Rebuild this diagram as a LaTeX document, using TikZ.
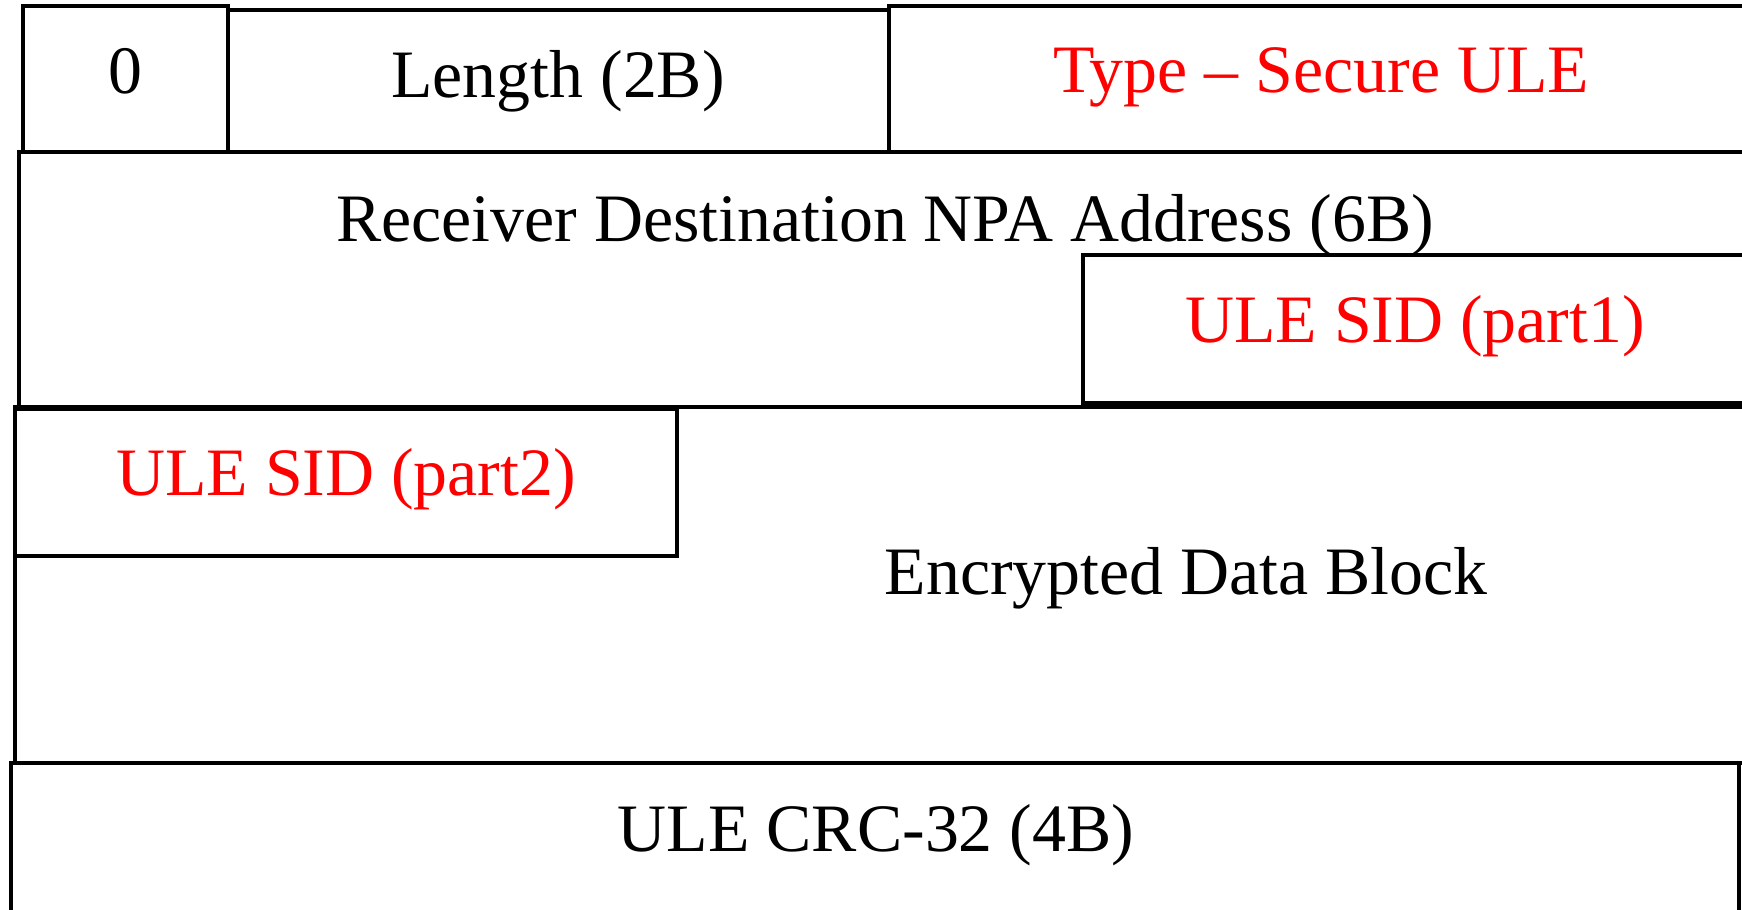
\documentclass[tikz,border=0pt]{standalone}
\usepackage{fontspec}
\setmainfont{Liberation Serif}
\usepackage{xcolor}
\definecolor{sidred}{RGB}{255,0,0}

\begin{document}
\begin{tikzpicture}[
    field/.style={draw=black,line width=1pt},
    lbl/.style={anchor=base,inner sep=0pt,font=\fontsize{19.3}{23}\selectfont},
    redlbl/.style={lbl,text=sidred}]
        \useasboundingbox (0,0) rectangle (17.42,-9.09);
        \clip (0,0) rectangle (17.42,-9.09);
        % Header fields
        \draw[field] (0.23,-0.06) rectangle (2.28,-1.52);
        \draw[field] (2.28,-0.10) rectangle (8.89,-1.52);
        \draw[field] (8.89,-0.06) rectangle (17.60,-1.52);
        \node[lbl] (zero) at (1.25,-0.93) {0};
        \node[lbl] (len) at (5.58,-0.97) {Length (2B)};
        \node[redlbl] (type) at (13.21,-0.92) {Type -- Secure ULE};
        % Destination address with first part of the SID
        \draw[field] (0.19,-1.52) rectangle (17.60,-4.07);
        \draw[field] (10.83,-2.55) rectangle (17.60,-4.03);
        \node[lbl] (npa) at (8.85,-2.41) {Receiver Destination NPA Address (6B)};
        \node[redlbl] (sid1) at (14.15,-3.42) {ULE SID (part1)};
        % Second part of the SID and the payload
        \draw[field] (0.15,-4.07) rectangle (17.60,-7.63);
        \draw[field] (0.15,-4.09) rectangle (6.77,-5.56);
        \node[redlbl] (sid2) at (3.46,-4.95) {ULE SID (part2)};
        \node[lbl] (data) at (11.86,-5.94) {Encrypted Data Block};
        % Trailer
        \draw[field] (0.11,-7.63) rectangle (17.39,-9.40);
        \node[lbl] (crc) at (8.76,-8.51) {ULE CRC-32 (4B)};
\end{tikzpicture}
\end{document}
